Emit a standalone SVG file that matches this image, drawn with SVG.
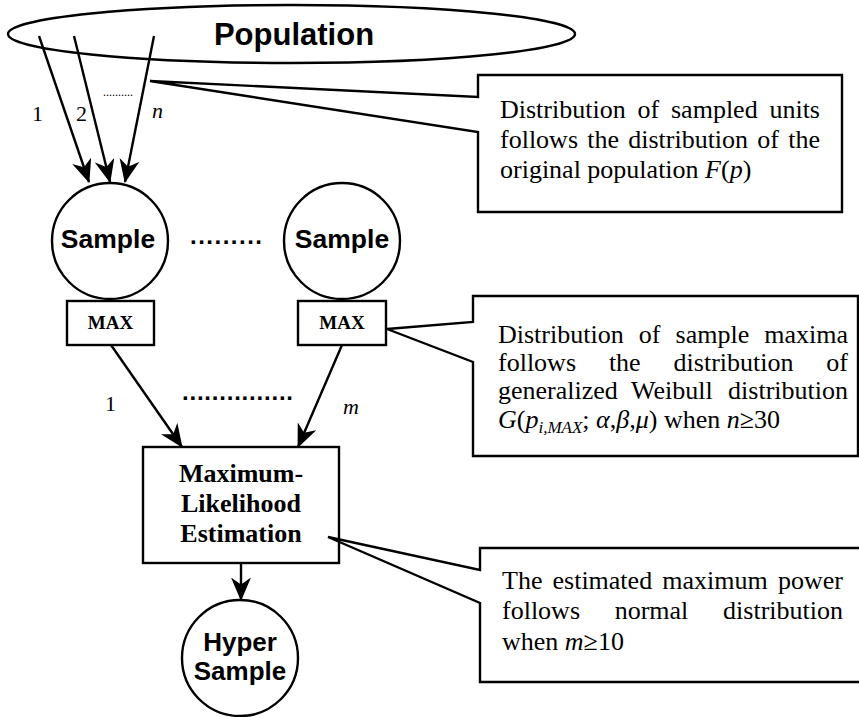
<svg xmlns="http://www.w3.org/2000/svg" width="859" height="717" viewBox="0 0 859 717">
<style>
.ln{stroke:#000;stroke-width:2.4;fill:none}
.shape{stroke:#000;stroke-width:2.4;fill:#fff}
.sans{font-family:"Liberation Sans",Arial,sans-serif;font-weight:bold;fill:#000}
.serif{font-family:"Liberation Serif","Times New Roman",serif;fill:#000}
.note{font-family:"Liberation Serif","Times New Roman",serif;font-size:26px;fill:#000}
.it{font-style:italic}
.end{text-anchor:end}
</style>
<defs>
<marker id="ah" markerUnits="userSpaceOnUse" orient="auto" markerWidth="24" markerHeight="20" viewBox="0 0 24 20" refX="22.5" refY="10">
<path d="M23.5,10 L0,0 L7,10 L0,20 Z" fill="#000"/>
</marker>
</defs>
<rect width="859" height="717" fill="#fff"/>

<g id="population">
<ellipse class="shape" cx="291.5" cy="34" rx="283.5" ry="29"/>
<text class="sans" x="294" y="45" font-size="31" text-anchor="middle">Population</text>
</g>

<g id="callout1">
<path class="shape" d="M478,75 H842 V212 H478 V132 L150,81 L478,97 Z"/>
<text class="note" y="118"><tspan x="500">Distribution</tspan><tspan x="637.5">of</tspan><tspan x="671">sampled</tspan></text>
<text class="note end" x="820" y="118">units</text>
<text class="note" y="148"><tspan x="500">follows</tspan><tspan x="587.2">the</tspan><tspan x="628.2">distribution</tspan><tspan x="757.3">of</tspan></text>
<text class="note end" x="820" y="148">the</text>
<text class="note" x="500" y="178">original population <tspan class="it">F</tspan>(<tspan class="it">p</tspan>)</text>
</g>

<g id="connectors">
<line class="ln" x1="39" y1="36" x2="89" y2="182" marker-end="url(#ah)"/>
<line class="ln" x1="74" y1="36" x2="110" y2="182" marker-end="url(#ah)"/>
<line class="ln" x1="154" y1="36" x2="125" y2="182" marker-end="url(#ah)"/>
<line class="ln" x1="111" y1="345" x2="182" y2="447" marker-end="url(#ah)"/>
<line class="ln" x1="342" y1="345" x2="298" y2="447" marker-end="url(#ah)"/>
<line class="ln" x1="241" y1="563" x2="241" y2="600" marker-end="url(#ah)"/>
<text class="serif" x="32" y="121" font-size="22">1</text>
<text class="serif" x="76" y="121" font-size="22">2</text>
<text class="serif it" x="152" y="118" font-size="22">n</text>
<text class="serif" x="103" y="96" font-size="12" textLength="30" lengthAdjust="spacing">..........</text>
<text class="serif" x="105" y="411" font-size="22">1</text>
<text class="serif it" x="343" y="414" font-size="22">m</text>
</g>

<g id="sample1">
<circle class="shape" cx="110" cy="241" r="58"/>
<text class="sans" x="108" y="248" font-size="26.5" text-anchor="middle">Sample</text>
</g>
<text class="sans" x="190" y="244" font-size="24" textLength="72" lengthAdjust="spacing">.........</text>
<g id="sample2">
<circle class="shape" cx="342" cy="241" r="58"/>
<text class="sans" x="342" y="248" font-size="26.5" text-anchor="middle">Sample</text>
</g>

<g id="max1">
<rect class="shape" x="67" y="301" width="87" height="44"/>
<text class="serif" x="110.5" y="329" font-size="19" font-weight="bold" text-anchor="middle">MAX</text>
</g>
<g id="max2">
<rect class="shape" x="298" y="301" width="88" height="44"/>
<text class="serif" x="342" y="329" font-size="19" font-weight="bold" text-anchor="middle">MAX</text>
</g>

<text class="sans" x="182" y="400" font-size="24" textLength="111" lengthAdjust="spacing">...............</text>

<g id="callout2">
<path class="shape" d="M473,296 H858 V456 H473 V362 L387,329 L473,322 Z"/>
<text class="note" y="343"><tspan x="498">Distribution</tspan><tspan x="638.8">of</tspan><tspan x="675.6">sample</tspan></text>
<text class="note end" x="848" y="343">maxima</text>
<text class="note" y="371"><tspan x="498">follows</tspan><tspan x="608.9">the</tspan><tspan x="673.6">distribution</tspan></text>
<text class="note end" x="848" y="371">of</text>
<text class="note" y="399"><tspan x="498">generalized</tspan><tspan x="631">Weibull</tspan></text>
<text class="note end" x="848" y="399">distribution</text>
<text class="note" x="498" y="428"><tspan class="it">G</tspan>(<tspan class="it">p</tspan><tspan class="it" font-size="17" dy="5">i,MAX</tspan><tspan dy="-5">; </tspan><tspan class="it">α</tspan>,<tspan class="it">β</tspan>,<tspan class="it">μ</tspan>) when <tspan class="it">n</tspan>≥30</text>
</g>

<g id="mle">
<rect class="shape" x="143" y="447" width="196" height="116"/>
<text class="serif" x="241" y="482" font-size="26" font-weight="bold" text-anchor="middle">Maximum-</text>
<text class="serif" x="241" y="512" font-size="26" font-weight="bold" text-anchor="middle">Likelihood</text>
<text class="serif" x="241" y="542" font-size="26" font-weight="bold" text-anchor="middle">Estimation</text>
</g>

<g id="callout3">
<path class="shape" d="M480,548 H862 V682 H480 V603 L328,537 L480,570 Z"/>
<text class="note" y="589"><tspan x="502">The</tspan><tspan x="552.5">estimated</tspan><tspan x="662.3">maximum</tspan></text>
<text class="note end" x="843" y="589">power</text>
<text class="note" y="619"><tspan x="502">follows</tspan><tspan x="614.7">normal</tspan></text>
<text class="note end" x="843" y="619">distribution</text>
<text class="note" x="502" y="650">when <tspan class="it">m</tspan>≥10</text>
</g>

<g id="hyper">
<circle class="shape" cx="240" cy="658" r="58"/>
<text class="sans" x="240" y="651" font-size="26" text-anchor="middle">Hyper</text>
<text class="sans" x="240" y="680" font-size="26" text-anchor="middle">Sample</text>
</g>
</svg>
